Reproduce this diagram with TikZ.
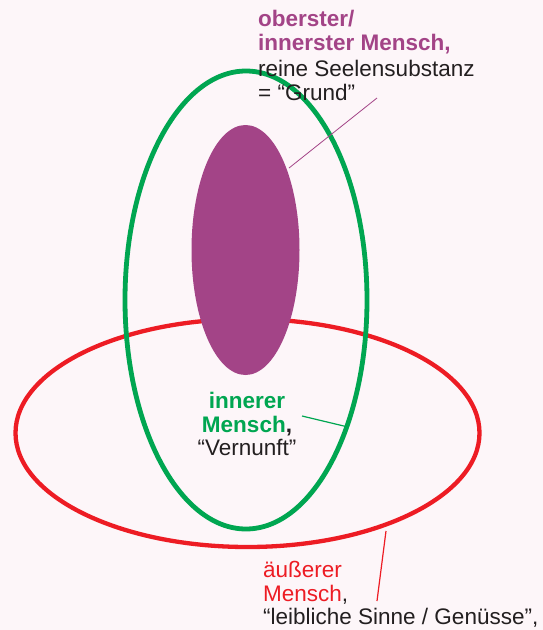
\documentclass[tikz,border=0pt]{standalone}
\usepackage{fontspec}
\setmainfont{Liberation Sans}
\usepackage{tikz}
\usetikzlibrary{positioning}
\usepackage{xcolor}
\definecolor{bgpink}{RGB}{253,246,249}
\definecolor{soulpurple}{RGB}{163,68,135}
\definecolor{innergreen}{RGB}{0,166,81}
\definecolor{outerred}{RGB}{237,28,36}
\definecolor{textgray}{RGB}{35,31,32}

\tikzset{
  lbl/.style={inner sep=0pt, text=textgray, font=\fontsize{22.5}{24}\selectfont},
}

\begin{document}
\begin{tikzpicture}[x=1pt, y=-1pt]
  % Background
  \fill[bgpink] (0,0) rectangle (543,630);
  \useasboundingbox (0,0) rectangle (543,630);
  % Outer man
  \draw[outerred, line width=4.3pt] (247.5,433) ellipse [x radius=232, y radius=114];
  % Inner man
  \draw[innergreen, line width=4.8pt] (246,300) ellipse [x radius=121, y radius=229];
  % Soul substance
  \fill[soulpurple] (245.5,250) ellipse [x radius=54, y radius=125];
  % Top label
  \node[lbl, anchor=base west, text=soulpurple] (ob1) at (258,26) {\bfseries oberster/};
  \node[lbl, anchor=base west, text=soulpurple] (ob2) at (258,50) {\bfseries innerster Mensch,};
  \node[lbl, anchor=base west] (ob3) at (258,76) {reine Seelensubstanz};
  \node[lbl, anchor=base west] (ob4) at (258,100) {= “Grund”};
  % Middle label
  \node[lbl, anchor=base, text=innergreen] (in1) at (247,408) {\bfseries innerer};
  \node[lbl, anchor=base] (in2) at (247,432) {\bfseries\textcolor{innergreen}{Mensch},};
  \node[lbl, anchor=base] (in3) at (247,455) {“Vernunft”};
  % Bottom label
  \node[lbl, anchor=base west, text=outerred] (au1) at (263,577) {äußerer};
  \node[lbl, anchor=base west] (au2) at (263,601) {\textcolor{outerred}{Mensch},};
  \node[lbl, anchor=base west] (au3) at (263,624) {“leibliche Sinne / Genüsse”,};
  % Pointer lines
  \coordinate (pA) at (289,168);
  \coordinate (pB) at (377,98);
  \draw[soulpurple, line width=0.8pt] (pA) -- (pB);
  \coordinate (gA) at (302,416);
  \coordinate (gB) at (348,427);
  \draw[innergreen, line width=1.2pt] (gA) -- (gB);
  \coordinate (rA) at (386,531);
  \coordinate (rB) at (377,601);
  \draw[outerred, line width=1.2pt] (rA) -- (rB);
\end{tikzpicture}
\end{document}
